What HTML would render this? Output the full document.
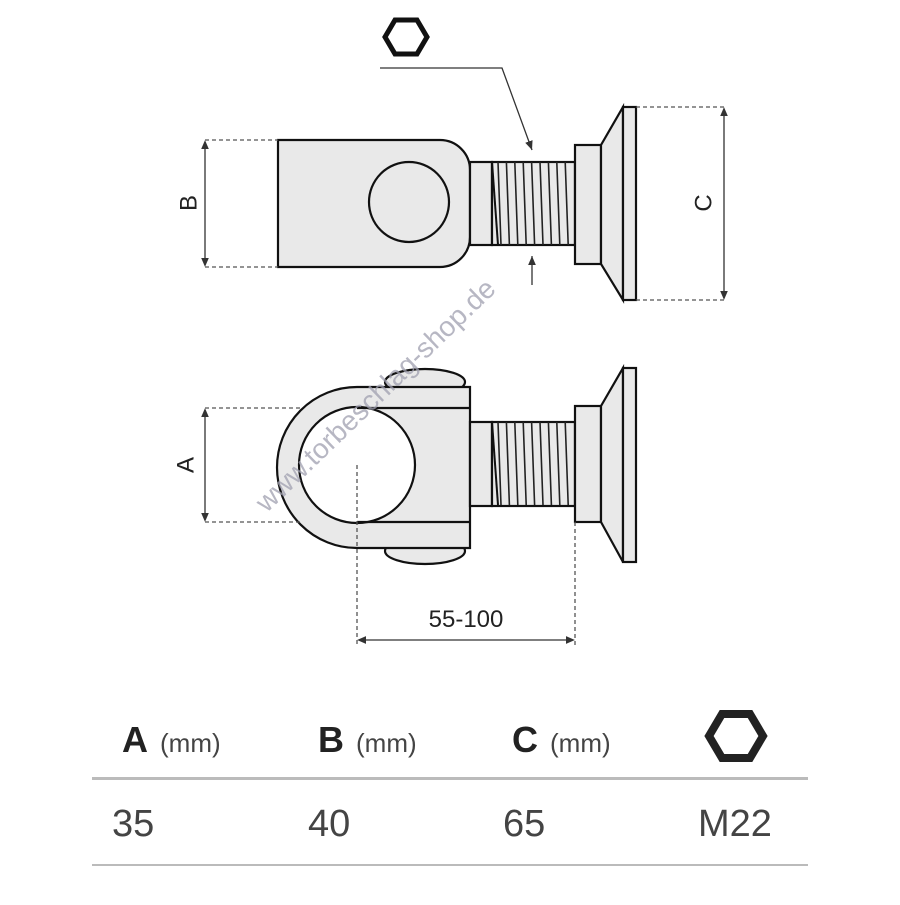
<!DOCTYPE html>
<html><head><style>
body{margin:0;background:#fff}
svg text{font-family:"Liberation Sans",sans-serif}
</style></head><body>
<svg width="900" height="900" viewBox="0 0 900 900" xmlns="http://www.w3.org/2000/svg">
<defs>
<marker id="ar" markerWidth="8" markerHeight="8" refX="7" refY="4" orient="auto"><path d="M0,1 L7,4 L0,7 Z" fill="#333"/></marker>
<marker id="ar2" markerWidth="8" markerHeight="8" refX="4" refY="4" orient="auto-start-reverse"><path d="M0,1 L7,4 L0,7 Z" fill="#333"/></marker>
<g id="thr">
<path d="M498,0 l3,83 M506.4,0 l3,83 M514.8,0 l3,83 M523.2,0 l3,83 M531.6,0 l3,83 M540,0 l3,83 M548.4,0 l3,83 M556.8,0 l3,83 M565.2,0 l3,83" stroke="#222" stroke-width="1.6" fill="none"/>
<path d="M492,0 L498,83" stroke="#111" stroke-width="2" fill="none"/>
</g>
</defs>
<g stroke="#111" stroke-width="2.2" fill="#e9e9e9">
<!-- top view -->
<path d="M278,140 H440 A30,30 0 0 1 470,170 V237 A30,30 0 0 1 440,267 H278 Z"/>
<circle cx="409" cy="202" r="40"/>
<rect x="470" y="162" width="22" height="83"/>
<rect x="492" y="162" width="83" height="83"/>
<rect x="575" y="145" width="26" height="119"/>
<path d="M601,145 L623,107 V300 L601,264 Z"/>
<rect x="623" y="107" width="13" height="193"/>
<!-- bottom view -->
<ellipse cx="425" cy="382" rx="40" ry="13"/>
<ellipse cx="425" cy="551" rx="40" ry="13"/>
<path d="M470,387 H357 A80,80.5 0 0 0 357,548 H470 Z"/>
<circle cx="357" cy="465" r="58" fill="#fff"/>
<path d="M357,408 H470 M357,522 H470" fill="none"/>
<rect x="470" y="422" width="22" height="84"/>
<rect x="492" y="422" width="83" height="84"/>
<rect x="575" y="406" width="26" height="116"/>
<path d="M601,406 L623,368 V562 L601,522 Z"/>
<rect x="623" y="368" width="13" height="194"/>
</g>
<use href="#thr" y="162"/>
<use href="#thr" y="422"/>
<!-- dims -->
<g stroke="#555" stroke-width="1.3" stroke-dasharray="4,3" fill="none">
<path d="M205,140 H278 M205,267 H278 M636,107 H724 M636,300 H724 M205,408 H300 M205,522 H300 M357,465 V645 M575,522 V645"/>
</g>
<g stroke="#333" stroke-width="1.3" fill="none">
<path d="M205,144 V263" marker-start="url(#ar2)" marker-end="url(#ar2)"/>
<path d="M724,111 V296" marker-start="url(#ar2)" marker-end="url(#ar2)"/>
<path d="M205,412 V518" marker-start="url(#ar2)" marker-end="url(#ar2)"/>
<path d="M361,640 H571" marker-start="url(#ar2)" marker-end="url(#ar2)"/>
<path d="M380,68 H502 L532,150" marker-end="url(#ar)"/>
<path d="M532,285 V256" marker-end="url(#ar)"/>
</g>
<polygon points="385,37 395,20 417,20 427,37 417,54 395,54" fill="none" stroke="#111" stroke-width="5"/>
<g font-size="24" fill="#222">
<text x="190" y="203" transform="rotate(-90 190 203)" text-anchor="middle" dominant-baseline="middle">B</text>
<text x="705" y="203" transform="rotate(-90 705 203)" text-anchor="middle" dominant-baseline="middle">C</text>
<text x="187" y="465" transform="rotate(-90 187 465)" text-anchor="middle" dominant-baseline="middle">A</text>
<text x="466" y="627" text-anchor="middle">55-100</text>
</g>
<text x="382" y="402" transform="rotate(-44 382 402)" text-anchor="middle" font-size="28" fill="#a0a0b0" opacity="0.75">www.torbeschlag-shop.de</text>
<!-- table -->
<g fill="#222">
<text x="122" y="752" font-size="36" font-weight="bold">A</text><text x="160" y="752" font-size="26" fill="#444">(mm)</text>
<text x="318" y="752" font-size="36" font-weight="bold">B</text><text x="356" y="752" font-size="26" fill="#444">(mm)</text>
<text x="512" y="752" font-size="36" font-weight="bold">C</text><text x="550" y="752" font-size="26" fill="#444">(mm)</text>
</g>
<polygon points="709,736 722,714 750,714 763,736 750,758 722,758" fill="none" stroke="#222" stroke-width="8"/>
<rect x="92" y="777" width="716" height="3" fill="#bbb"/>
<g font-size="38" fill="#444">
<text x="112" y="836">35</text><text x="308" y="836">40</text><text x="503" y="836">65</text><text x="698" y="836">M22</text>
</g>
<rect x="92" y="864" width="716" height="2" fill="#bbb"/>
</svg>
</body></html>
